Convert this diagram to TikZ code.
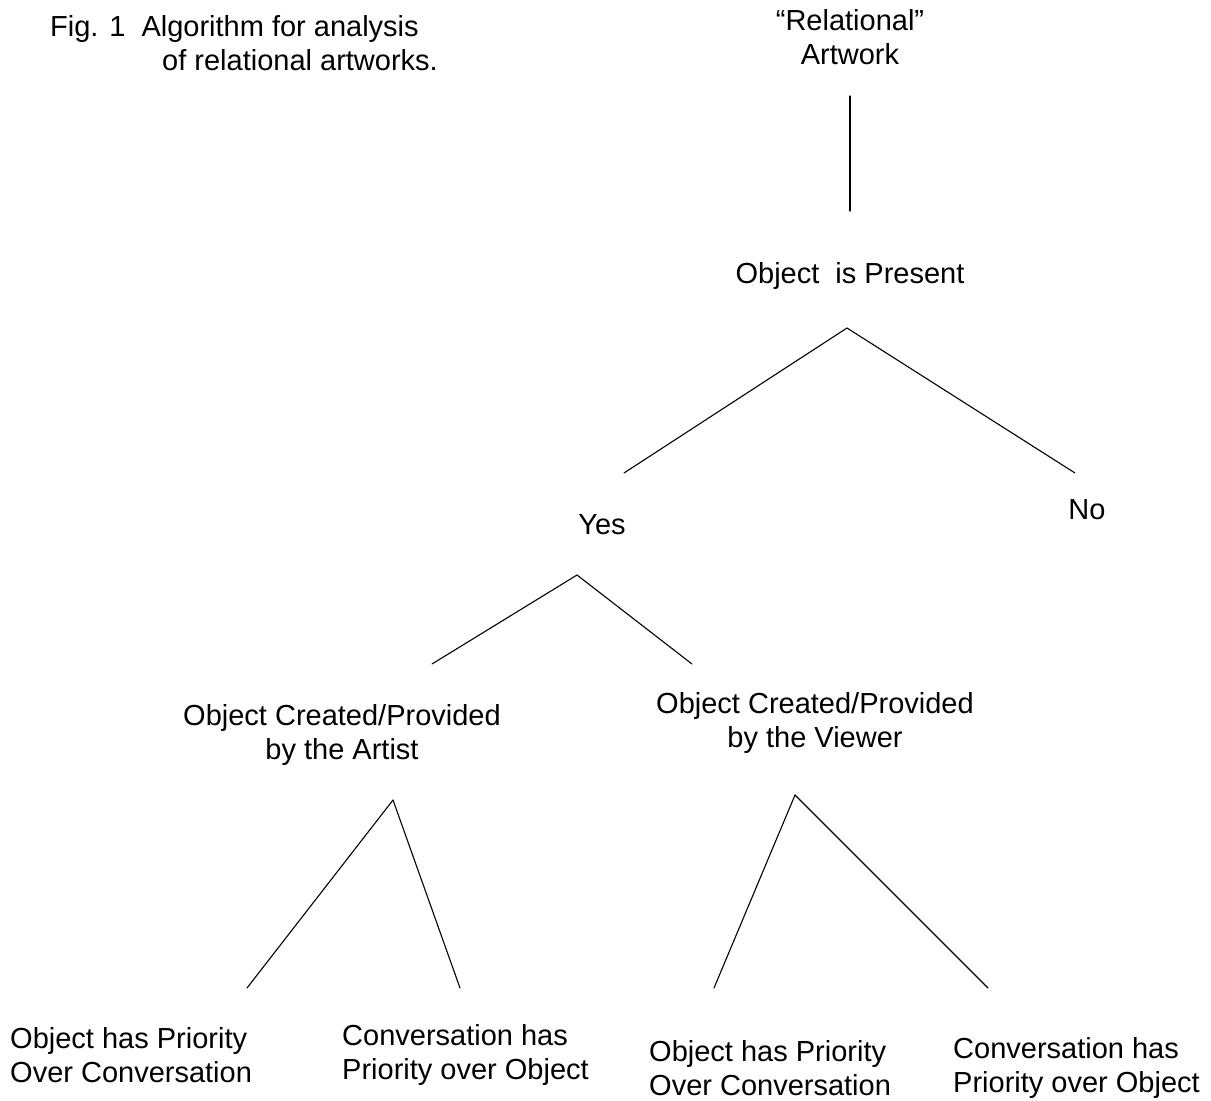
\documentclass[tikz,border=0pt]{standalone}
\usepackage{fontspec}
\setmainfont{Liberation Sans}
\begin{document}
\begin{tikzpicture}[x=1pt,y=-1pt,
  lbl/.style={inner sep=0pt,font=\fontsize{29}{34}\selectfont,align=center},
  lbll/.style={inner sep=0pt,font=\fontsize{29}{34}\selectfont,align=left,anchor=west},
  capt/.style={inner sep=0pt,font=\fontsize{29}{34}\selectfont,anchor=base west},
  edge/.style={line width=1.1pt,line cap=round}]
\useasboundingbox (0,0) rectangle (1211,1101);
% caption
\node[capt] (cap1) at (50,36) {Fig. 1\ \ Algorithm for analysis};
\node[capt] (cap2) at (162,70) {of relational artworks.};
% nodes
\node[lbl] (root) at (850,37) {“Relational”\\Artwork};
\node[lbl] (obj) at (850,276) {Object\ \ is Present};
\node[lbl] (yes) at (602,525) {Yes};
\node[lbl] (no) at (1087,510) {No};
\node[lbl] (artist) at (342,735) {Object Created/Provided\\by the Artist};
\node[lbl] (viewer) at (815,723) {Object Created/Provided\\by the Viewer};
\node[lbll] (a1) at (10,1055) {Object has Priority\\Over Conversation};
\node[lbll] (a2) at (342,1055) {Conversation has\\Priority over Object};
\node[lbll] (v1) at (649,1068) {Object has Priority\\Over Conversation};
\node[lbll] (v2) at (953,1068) {Conversation has\\Priority over Object};
% connector ends
\coordinate (rootB) at (850,96);
\coordinate (objT) at (850,211);
\coordinate (objB) at (847,328);
\coordinate (yesT) at (624,473);
\coordinate (noT) at (1075,473);
\coordinate (yesB) at (577,575);
\coordinate (artT) at (432,664);
\coordinate (viewT) at (692,664);
\coordinate (artB) at (393,800);
\coordinate (a1T) at (247,988);
\coordinate (a2T) at (460,988);
\coordinate (viewB) at (795,795);
\coordinate (v1T) at (714,988);
\coordinate (v2T) at (988,988);
% connectors
\draw[edge] (rootB) -- (objT);
\draw[edge] (objB) -- (yesT);
\draw[edge] (objB) -- (noT);
\draw[edge] (yesB) -- (artT);
\draw[edge] (yesB) -- (viewT);
\draw[edge] (artB) -- (a1T);
\draw[edge] (artB) -- (a2T);
\draw[edge] (viewB) -- (v1T);
\draw[edge] (viewB) -- (v2T);
\end{tikzpicture}
\end{document}
